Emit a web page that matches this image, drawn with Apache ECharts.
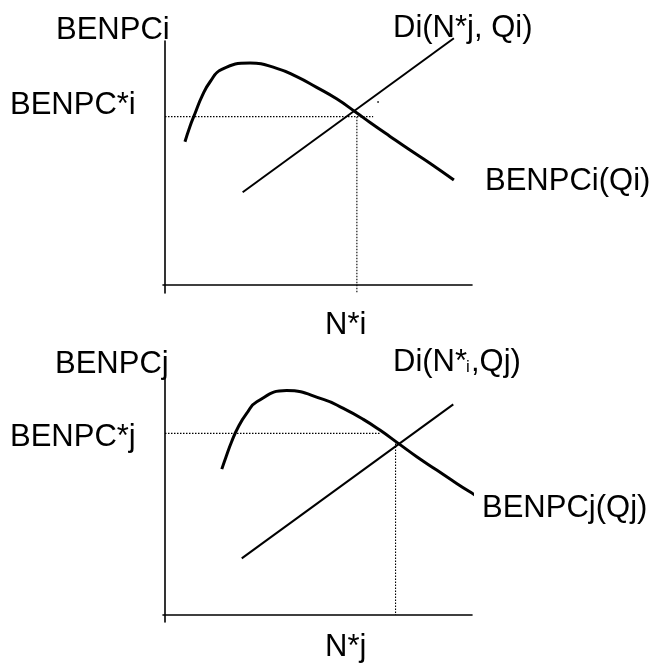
<!DOCTYPE html>
<html>
<head>
<meta charset="utf-8">
<title>BENPC</title>
<script src="https://cdn.jsdelivr.net/npm/echarts@6/dist/echarts.min.js"></script>
<style>
html,body{margin:0;padding:0;background:#fff;}
#main{width:655px;height:670px;}
</style>
</head>
<body>
<div id="main"></div>
<script>
// units: x 0..100 along the horizontal axis, y 0..100 up the vertical axis

/* upper panel (i) */
var curveI = [[6.5,58.7],[8.1,64.9],[9.8,70.4],[12.0,77.2],[14.7,83.3],[18.5,88.4],[27.7,91.0],
	[36.4,88.8],[42.9,85.4],[49.4,81.0],[55.9,76.3],[62.4,70.6],[66.8,66.6],[73.3,60.9],
	[79.8,55.3],[86.3,49.9],[94.1,43.0]];
var demandI = [[25.3,38.0],[94.1,101.1]];
var levelI = [[0,69.0],[67.8,69.0]];
var dropI = [[62.5,69.0],[62.5,-3.3]];
var speckI = [[69.4,75.0]];

/* lower panel (j) */
var curveJ = [[18.5,61.3],[19.9,66.5],[21.7,72.8],[23.9,79.1],[26.6,84.7],[29.9,89.6],[39.6,94.3],
	[51.6,90.6],[58.1,86.8],[64.6,82.2],[70.0,77.7],[76.0,72.1],[82.0,66.5],[88.5,60.9],
	[95.0,55.3],[102.6,49.0],[104.2,47.6]];
var demandJ = [[25.0,23.8],[93.9,88.5]];
var levelJ = [[0,76.3],[70.0,76.3]];
var dropJ = [[75.1,72.1],[75.1,0]];

var labelsI = ['BENPCi','BENPC*i','Di(N*j, Qi)','BENPCi(Qi)','N*i'];
var labelsJ = ['BENPCj','BENPC*j','BENPCj(Qj)','N*j'];
var demandLabelJ = ['Di(N*', 'i', ',Qj)'];

var FONT = '31px "Liberation Sans", Arial, sans-serif';

function axisX(idx){
	return {
		type:'value', gridIndex:idx, min:-0.65, max:100,
		axisLine:{onZero:true, lineStyle:{color:'#000', width:1.6}},
		axisTick:{show:false}, axisLabel:{show:false}, splitLine:{show:false}
	};
}
function axisY(idx, lo){
	return {
		type:'value', gridIndex:idx, min:lo, max:100,
		axisLine:{onZero:true, lineStyle:{color:'#000', width:1.6}},
		axisTick:{show:false}, axisLabel:{show:false}, splitLine:{show:false}
	};
}
function curve(idx, data, w){
	return {
		type:'line', xAxisIndex:idx, yAxisIndex:idx, data:data, smooth:0.5, clip:false,
		symbol:'none', lineStyle:{color:'#000', width:w}
	};
}
function dots(idx, data){
	return {
		type:'line', xAxisIndex:idx, yAxisIndex:idx, data:data, clip:false,
		symbol:'none', lineStyle:{color:'#000', width:1.1, type:[1.5,1.5]}
	};
}
// y is the top of the text box
function txt(s, x, y, font){
	return {type:'text', x:x, y:y, style:{text:s, font:font || FONT, fill:'#000'}};
}

var chart = echarts.init(document.getElementById('main'));
var option = {
	animation:false,
	backgroundColor:'#fff',
	grid:[
		{left:163, right:183, top:41, bottom:377},
		{left:163, right:183, top:377, bottom:48}
	],
	xAxis:[axisX(0), axisX(1)],
	yAxis:[axisY(0,-3.28), axisY(1,-2.94)],
	series:[
		curve(0, curveI, 3),
		curve(0, demandI, 2),
		dots(0, levelI),
		dots(0, dropI),
		{type:'scatter', xAxisIndex:0, yAxisIndex:0, data:speckI, symbolSize:2, itemStyle:{color:'#000'}},
		curve(1, curveJ, 3),
		curve(1, demandJ, 2),
		dots(1, levelJ),
		dots(1, dropJ)
	],
	graphic:[
		txt(labelsI[0], 56, 15),
		txt(labelsI[1], 10, 90),
		txt(labelsI[2], 393, 13),
		txt(labelsI[3], 485, 166),
		txt(labelsI[4], 325, 310),
		txt(labelsJ[0], 55, 349),
		txt(labelsJ[1], 10, 422),
		txt(labelsJ[2], 482, 493),
		txt(labelsJ[3], 325, 632),
		txt(demandLabelJ[0], 393, 347),
		txt(demandLabelJ[1], 466, 359, '17px "Liberation Sans", Arial, sans-serif'),
		txt(demandLabelJ[2], 471, 347)
	]
};
chart.setOption(option);
</script>
</body>
</html>
